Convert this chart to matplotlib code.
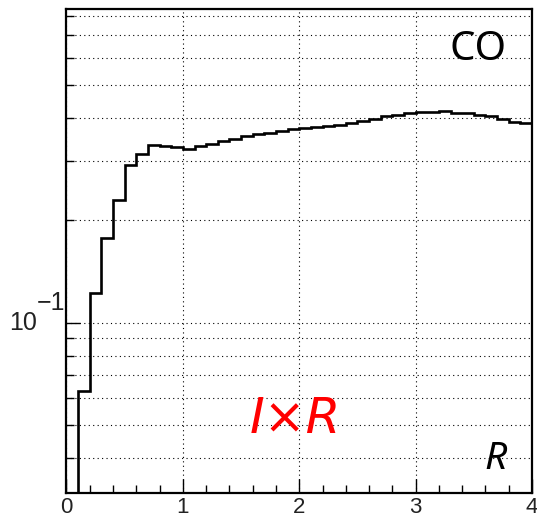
import numpy as np
import matplotlib
matplotlib.use('Agg')
import matplotlib.pyplot as plt
import matplotlib.transforms as mtransforms
from matplotlib.ticker import FixedLocator, NullFormatter

# histogram of R, 40 bins from 0 to 4 (first bin empty)
bin_width = 0.1
counts = [
    0.0, 0.063, 0.1225, 0.178, 0.2296, 0.2915, 0.314, 0.334, 0.3316, 0.328,
    0.3249, 0.3302, 0.3361, 0.3423, 0.3477, 0.3534, 0.3589, 0.3614, 0.3663, 0.3713,
    0.3731, 0.3771, 0.3797, 0.3815, 0.3867, 0.3920, 0.3981, 0.4046, 0.4090, 0.4129,
    0.4157, 0.4157, 0.4193, 0.4129, 0.4129, 0.4090, 0.4046, 0.3981, 0.3893, 0.3857,
]

x_major = [0, 1, 2, 3, 4]
x_minor = [0.2, 0.4, 0.6, 0.8, 1.2, 1.4, 1.6, 1.8, 2.2, 2.4, 2.6, 2.8,
           3.2, 3.4, 3.6, 3.8]
y_major = [0.1]
y_label_base, y_label_exp = '10', '\u22121'
y_minor = [0.04, 0.05, 0.06, 0.07, 0.08, 0.09,
           0.2, 0.3, 0.4, 0.5, 0.6, 0.7, 0.8]

edges = np.arange(len(counts) + 1) * bin_width

fig = plt.figure(figsize=(5.37, 5.18), dpi=100)
ax = fig.add_axes([0.1238, 0.0488, 0.8669, 0.9338])

ax.stairs(counts, edges, color='black', linewidth=1.9, baseline=None)

ax.set_yscale('log')
ax.set_xlim(0, 4)
ax.set_ylim(10 ** -1.5, 0.837)

ax.xaxis.set_major_locator(FixedLocator(x_major))
ax.xaxis.set_minor_locator(FixedLocator(x_minor))
ax.yaxis.set_major_locator(FixedLocator(y_major))
ax.yaxis.set_minor_locator(FixedLocator(y_minor))
ax.yaxis.set_major_formatter(NullFormatter())
ax.yaxis.set_minor_formatter(NullFormatter())
ax.set_xticklabels([str(v) for v in x_major])

for lab in ax.get_xticklabels():
    lab.set_family('Liberation Sans')
    lab.set_fontsize(16)
    lab.set_color('#222222')

ax.tick_params(which='both', direction='in', top=False, right=False,
               width=1.0, color='black')
ax.tick_params(which='major', length=10, pad=3)
ax.tick_params(which='minor', length=6)

# 10^-1 label, ROOT style with a large exponent
trans = mtransforms.blended_transform_factory(ax.transAxes, ax.transData)
ax.text(-0.0634, y_major[0], y_label_base, transform=trans, ha='right',
        va='center', fontsize=18, family='Liberation Sans', color='#222222')
sup = mtransforms.offset_copy(trans, fig=fig, x=0, y=14.5, units='points')
ax.text(-0.0634, y_major[0], y_label_exp, transform=sup, ha='left',
        va='center', fontsize=18, family='Liberation Sans', color='#222222')

grid_style = dict(color='black', linestyle=(0, (1, 3)), linewidth=0.8)
ax.xaxis.grid(True, which='major', **grid_style)
ax.yaxis.grid(True, which='both', **grid_style)
ax.set_axisbelow(True)

for s in ax.spines.values():
    s.set_linewidth(1.6)
    s.set_zorder(5)

ax.text(0.885, 0.915, 'CO', transform=ax.transAxes, ha='center', va='center',
        fontsize=29, family='Noto Sans', color='black')
ax.text(0.491, 0.152, 'I\u00d7R', transform=ax.transAxes, ha='center',
        va='center', fontsize=36, family='DejaVu Sans', style='italic',
        color='red')
ax.text(0.922, 0.0697, 'R', transform=ax.transAxes, ha='center',
        va='center', fontsize=28, family='Noto Sans', style='italic',
        color='black')

fig.savefig('out.png', dpi=100)
